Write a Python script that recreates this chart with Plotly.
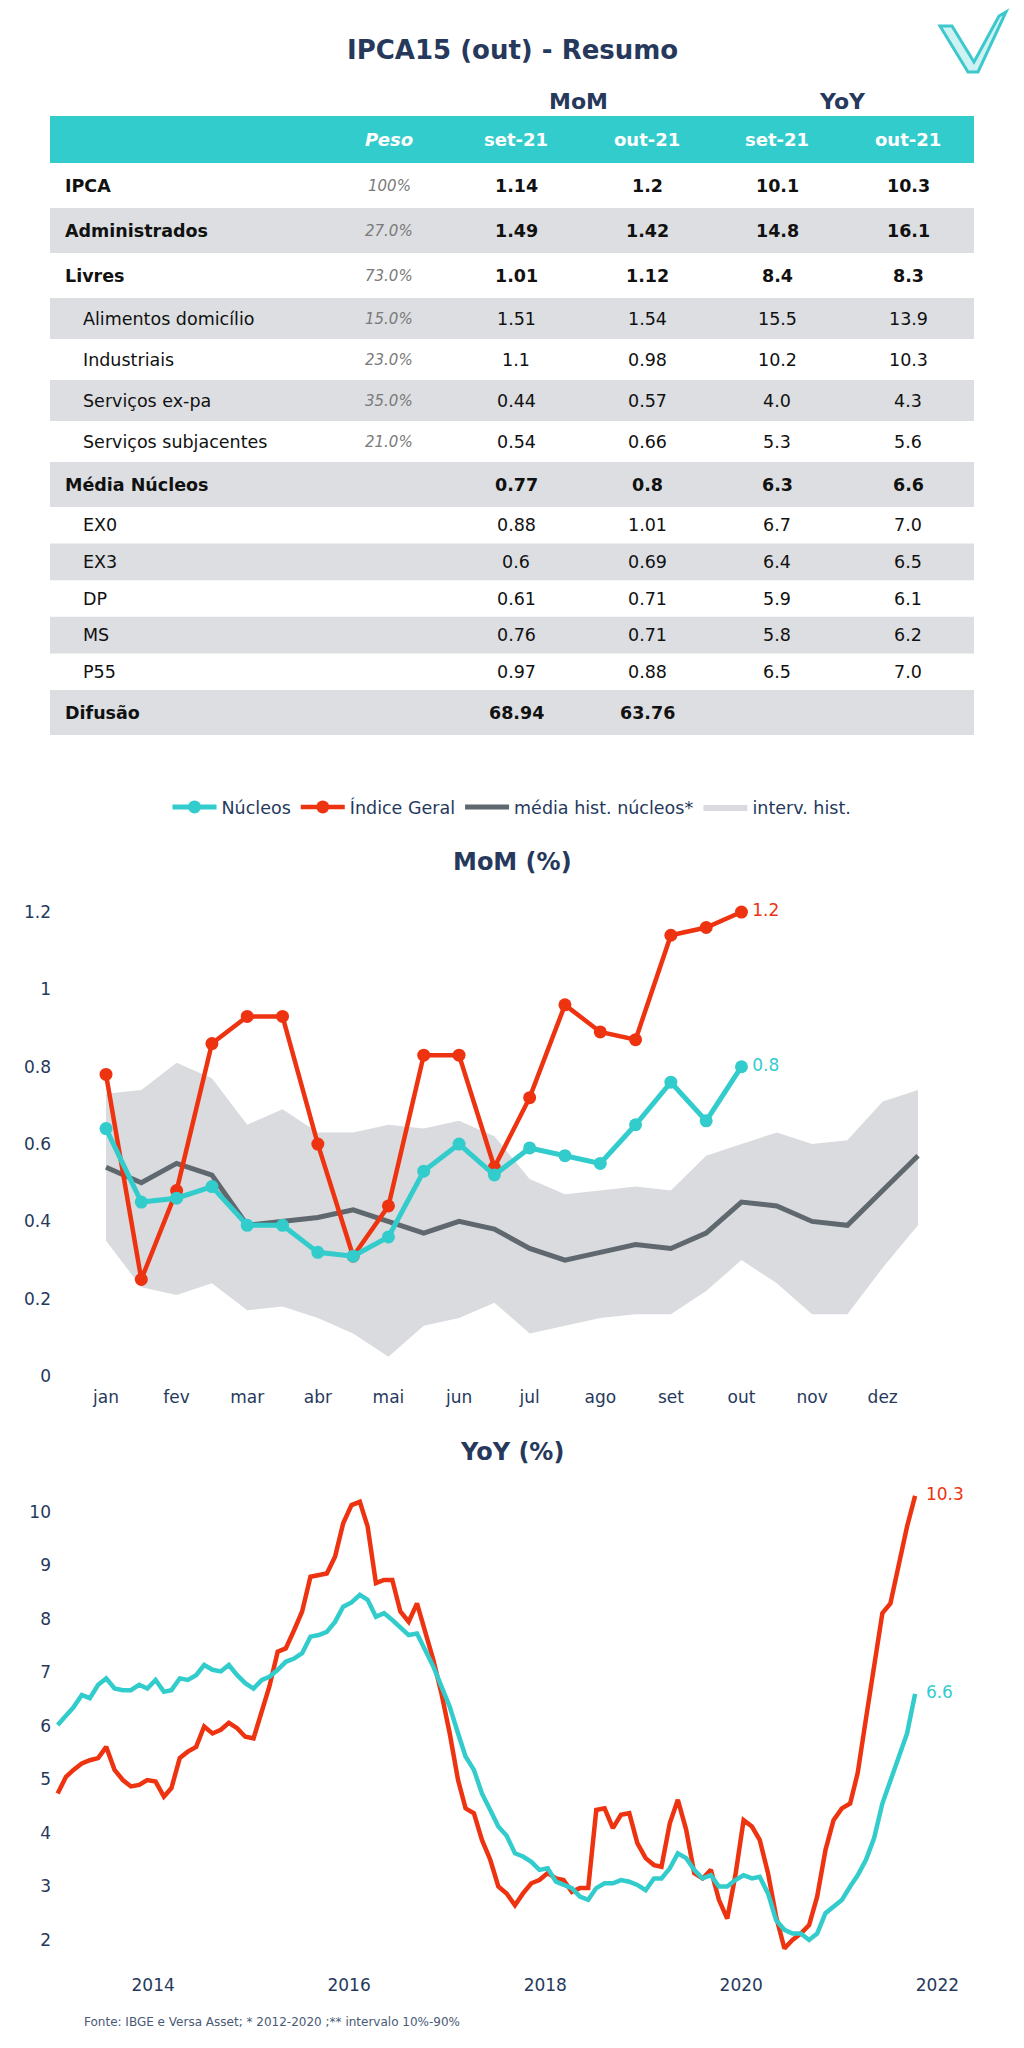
import plotly.graph_objects as go

W, H = 1024, 2048


def px(x):
    return x / W


def py(y):
    return 1 - y / H


NAVY = "#26395c"
TEAL = "#33cccc"
RED = "#ee3311"
GREY_LINE = "#5f686e"
BAND = "#d9dbde"
ROW_GREY = "#dcdee1"
FONT = "DejaVu Sans"

# ---------------- table data ----------------
row_labels = ["IPCA", "Administrados", "Livres", "Alimentos domicílio", "Industriais",
              "Serviços ex-pa", "Serviços subjacentes", "Média Núcleos", "EX0", "EX3",
              "DP", "MS", "P55", "Difusão"]
peso = ["100%", "27.0%", "73.0%", "15.0%", "23.0%", "35.0%", "21.0%",
        "", "", "", "", "", "", ""]
mom_set21 = ["1.14", "1.49", "1.01", "1.51", "1.1", "0.44", "0.54", "0.77",
             "0.88", "0.6", "0.61", "0.76", "0.97", "68.94"]
mom_out21 = ["1.2", "1.42", "1.12", "1.54", "0.98", "0.57", "0.66", "0.8",
             "1.01", "0.69", "0.71", "0.71", "0.88", "63.76"]
yoy_set21 = ["10.1", "14.8", "8.4", "15.5", "10.2", "4.0", "5.3", "6.3",
             "6.7", "6.4", "5.9", "5.8", "6.5", ""]
yoy_out21 = ["10.3", "16.1", "8.3", "13.9", "10.3", "4.3", "5.6", "6.6",
             "7.0", "6.5", "6.1", "6.2", "7.0", ""]
header_cols = ["Peso", "set-21", "out-21", "set-21", "out-21"]
group_headers = ["MoM", "YoY"]
bold_rows = {"IPCA", "Administrados", "Livres", "Média Núcleos", "Difusão"}

# ---------------- MoM data ----------------
months = ["jan", "fev", "mar", "abr", "mai", "jun", "jul", "ago", "set", "out", "nov", "dez"]
mom_nucleos = [0.64, 0.45, 0.46, 0.49, 0.39, 0.39, 0.32, 0.31, 0.36, 0.53, 0.60, 0.52,
               0.59, 0.57, 0.55, 0.65, 0.76, 0.66, 0.80]
mom_geral = [0.78, 0.25, 0.48, 0.86, 0.93, 0.93, 0.60, 0.31, 0.44, 0.83, 0.83, 0.54,
             0.72, 0.96, 0.89, 0.87, 1.14, 1.16, 1.20]
mom_media_hist = [0.54, 0.50, 0.55, 0.52, 0.39, 0.40, 0.41, 0.43, 0.40, 0.37, 0.40, 0.38,
                  0.33, 0.30, 0.32, 0.34, 0.33, 0.37, 0.45, 0.44, 0.40, 0.39, 0.48, 0.57]
mom_interv_high = [0.73, 0.74, 0.81, 0.77, 0.65, 0.69, 0.63, 0.63, 0.65, 0.64, 0.66, 0.62,
                   0.51, 0.47, 0.48, 0.49, 0.48, 0.57, 0.60, 0.63, 0.60, 0.61, 0.71, 0.74]
mom_interv_low = [0.35, 0.23, 0.21, 0.24, 0.17, 0.18, 0.15, 0.11, 0.05, 0.13, 0.15, 0.19,
                  0.11, 0.13, 0.15, 0.16, 0.16, 0.22, 0.30, 0.24, 0.16, 0.16, 0.28, 0.39]

# ---------------- YoY data (monthly, Jan 2013 - Oct 2021) ----------------
yoy_geral = [4.74, 5.05, 5.18, 5.30, 5.36, 5.40, 5.61, 5.18, 4.99, 4.87,
             4.90, 4.99, 4.96, 4.68, 4.84, 5.40, 5.52, 5.61, 5.99, 5.86,
             5.93, 6.06, 5.96, 5.80, 5.77, 6.30, 6.74, 7.39, 7.45, 7.79,
             8.14, 8.79, 8.82, 8.85, 9.17, 9.79, 10.13, 10.19, 9.73, 8.67,
             8.73, 8.73, 8.14, 7.95, 8.29, 7.79, 7.23, 6.61, 5.86, 4.99,
             4.46, 4.37, 3.87, 3.50, 3.00, 2.87, 2.65, 2.87, 3.06, 3.12,
             3.25, 3.15, 3.12, 2.90, 2.97, 2.97, 4.43, 4.46, 4.09, 4.34,
             4.37, 3.81, 3.53, 3.40, 3.37, 4.18, 4.62, 4.06, 3.25, 3.15,
             3.31, 2.75, 2.40, 3.20, 4.24, 4.12, 3.87, 3.25, 2.44, 1.84,
             2.00, 2.12, 2.28, 2.81, 3.68, 4.24, 4.46, 4.55, 5.12, 6.14,
             7.05, 8.11, 8.29, 8.98, 9.73, 10.30]
yoy_nucleos = [6.02, 6.20, 6.35, 6.58, 6.52, 6.77, 6.89, 6.70, 6.67, 6.67,
               6.77, 6.70, 6.86, 6.64, 6.67, 6.89, 6.86, 6.95, 7.14, 7.05,
               7.02, 7.14, 6.95, 6.80, 6.70, 6.86, 6.92, 7.05, 7.20, 7.26,
               7.36, 7.67, 7.70, 7.76, 7.95, 8.23, 8.31, 8.45, 8.36, 8.04,
               8.11, 7.98, 7.83, 7.70, 7.73, 7.42, 7.11, 6.74, 6.36, 5.86,
               5.43, 5.18, 4.74, 4.43, 4.12, 3.95, 3.62, 3.56, 3.46, 3.31,
               3.34, 3.09, 3.03, 2.97, 2.81, 2.75, 2.97, 3.06, 3.06, 3.12,
               3.09, 3.03, 2.93, 3.15, 3.15, 3.34, 3.62, 3.53, 3.31, 3.15,
               3.21, 3.00, 3.00, 3.12, 3.21, 3.15, 3.18, 2.87, 2.37, 2.19,
               2.12, 2.12, 2.00, 2.12, 2.50, 2.62, 2.75, 3.00, 3.21, 3.50,
               3.90, 4.55, 4.99, 5.43, 5.86, 6.60]
yoy_dates = [f"{2013 + k // 12}-{k % 12 + 1:02d}-10" for k in range(len(yoy_geral))]

footer_text = "Fonte: IBGE e Versa Asset; * 2012-2020 ;** intervalo 10%-90%"

fig = go.Figure()

# ---------------- MoM chart ----------------
mom_x = [i * 0.5 for i in range(len(mom_interv_low))]
fig.add_trace(go.Scatter(x=mom_x, y=mom_interv_low, mode="lines",
                         line=dict(width=0, color=BAND), showlegend=False,
                         hoverinfo="skip", xaxis="x", yaxis="y"))
fig.add_trace(go.Scatter(x=mom_x, y=mom_interv_high, mode="lines", fill="tonexty",
                         fillcolor=BAND, line=dict(width=0, color=BAND),
                         name="interv. hist.", legendrank=4, xaxis="x", yaxis="y"))
fig.add_trace(go.Scatter(x=mom_x, y=mom_media_hist, mode="lines",
                         line=dict(width=5, color=GREY_LINE),
                         name="média hist. núcleos*", legendrank=3, xaxis="x", yaxis="y"))
fig.add_trace(go.Scatter(x=mom_x[:len(mom_geral)], y=mom_geral, mode="lines+markers",
                         line=dict(width=4.5, color=RED), marker=dict(size=13, color=RED),
                         name="Índice Geral", legendrank=2, xaxis="x", yaxis="y"))
fig.add_trace(go.Scatter(x=mom_x[:len(mom_nucleos)], y=mom_nucleos, mode="lines+markers",
                         line=dict(width=5, color=TEAL), marker=dict(size=13, color=TEAL),
                         name="Núcleos", legendrank=1, xaxis="x", yaxis="y"))
for series, col in ((mom_geral, RED), (mom_nucleos, TEAL)):
    fig.add_trace(go.Scatter(x=[mom_x[len(series) - 1]], y=[series[-1]], mode="text",
                             text=[f"&nbsp;&nbsp;{series[-1]:g}"], textposition="middle right",
                             textfont=dict(size=17, color=col, family=FONT),
                             showlegend=False, hoverinfo="skip", xaxis="x", yaxis="y"))

# ---------------- YoY chart ----------------
fig.add_trace(go.Scatter(x=yoy_dates, y=yoy_geral, mode="lines",
                         line=dict(width=4.5, color=RED), showlegend=False,
                         xaxis="x2", yaxis="y2"))
fig.add_trace(go.Scatter(x=yoy_dates, y=yoy_nucleos, mode="lines",
                         line=dict(width=4.5, color=TEAL), showlegend=False,
                         xaxis="x2", yaxis="y2"))
for series, col in ((yoy_geral, RED), (yoy_nucleos, TEAL)):
    fig.add_trace(go.Scatter(x=[yoy_dates[-1]], y=[series[-1]], mode="text",
                             text=[f"&nbsp;&nbsp;{series[-1]:g}"], textposition="middle right",
                             textfont=dict(size=17, color=col, family=FONT),
                             showlegend=False, hoverinfo="skip", xaxis="x2", yaxis="y2"))

# ---------------- table (shapes + annotations) ----------------
shapes = []
annotations = []

TBL_L, TBL_R = 50, 974
HDR_T, HDR_B = 116, 163
col_centers = [389, 516, 647, 777, 908]
group_centers = [578, 842]

shapes.append(dict(type="rect", xref="paper", yref="paper", x0=px(TBL_L), x1=px(TBL_R),
                   y0=py(HDR_B), y1=py(HDR_T), fillcolor=TEAL, line=dict(width=0), layer="below"))
for i, h in enumerate(header_cols):
    txt = f"<b><i>{h}</i></b>" if i == 0 else f"<b>{h}</b>"
    annotations.append(dict(x=px(col_centers[i]), y=py((HDR_T + HDR_B) / 2), xref="paper",
                            yref="paper", text=txt, showarrow=False, xanchor="center",
                            yanchor="middle", font=dict(size=18, color="white", family=FONT)))
for g, c in zip(group_headers, group_centers):
    annotations.append(dict(x=px(c), y=py(101), xref="paper", yref="paper",
                            text=f"<b>{g}</b>", showarrow=False, xanchor="center",
                            yanchor="middle", font=dict(size=22, color=NAVY, family=FONT)))

row_h_style = {"bold": 45, "peso": 41, "plain": 36.6}
y_cur = HDR_B
for r, lab in enumerate(row_labels):
    is_bold = lab in bold_rows
    kind = "bold" if is_bold else ("peso" if peso[r] else "plain")
    h = row_h_style[kind]
    if r % 2 == 1:
        shapes.append(dict(type="rect", xref="paper", yref="paper", x0=px(TBL_L),
                           x1=px(TBL_R), y0=py(y_cur + h), y1=py(y_cur),
                           fillcolor=ROW_GREY, line=dict(width=0), layer="below"))
    yc = py(y_cur + h / 2)
    lab_txt = f"<b>{lab}</b>" if is_bold else lab
    annotations.append(dict(x=px(63 if is_bold else 81), y=yc, xref="paper", yref="paper",
                            text=lab_txt, showarrow=False, xanchor="left", yanchor="middle",
                            font=dict(size=17.5, color="#111111", family=FONT)))
    if peso[r]:
        annotations.append(dict(x=px(col_centers[0]), y=yc, xref="paper", yref="paper",
                                text=f"<i>{peso[r]}</i>", showarrow=False, xanchor="center",
                                yanchor="middle",
                                font=dict(size=15, color="#7a7a7a", family=FONT)))
    for ci, vals in enumerate((mom_set21, mom_out21, yoy_set21, yoy_out21)):
        v = vals[r]
        if not v:
            continue
        annotations.append(dict(x=px(col_centers[ci + 1]), y=yc, xref="paper", yref="paper",
                                text=f"<b>{v}</b>" if is_bold else v, showarrow=False,
                                xanchor="center", yanchor="middle",
                                font=dict(size=17.5, color="#111111", family=FONT)))
    y_cur += h

# ---------------- titles / footer ----------------
annotations.append(dict(x=0.5, y=py(50), xref="paper", yref="paper",
                        text="<b>IPCA15 (out) - Resumo</b>", showarrow=False,
                        xanchor="center", yanchor="middle",
                        font=dict(size=26, color=NAVY, family=FONT)))
annotations.append(dict(x=px(512), y=py(862), xref="paper", yref="paper",
                        text="<b>MoM (%)</b>", showarrow=False, xanchor="center",
                        yanchor="middle", font=dict(size=24, color=NAVY, family=FONT)))
annotations.append(dict(x=px(512), y=py(1452), xref="paper", yref="paper",
                        text="<b>YoY (%)</b>", showarrow=False, xanchor="center",
                        yanchor="middle", font=dict(size=24, color=NAVY, family=FONT)))
annotations.append(dict(x=px(82), y=py(2022), xref="paper", yref="paper",
                        text=footer_text, showarrow=False, xanchor="left",
                        yanchor="middle", font=dict(size=12, color="#4a5a75", family=FONT)))


# logo (decorative V)
def pth(pts, close=False):
    s = "M " + " L ".join(f"{px(a):.5f},{py(b):.5f}" for a, b in pts)
    return s + (" Z" if close else "")


shapes.append(dict(type="path", xref="paper", yref="paper",
                   path=pth([(940, 26), (952, 26), (974, 62), (999, 16), (1006, 12),
                             (978, 72), (968, 72)], close=True),
                   fillcolor="rgba(60,200,204,0.25)",
                   line=dict(color="#3cc8cc", width=3)))

axis_common = dict(showgrid=False, zeroline=False, showline=False, ticks="",
                   automargin=False, tickfont=dict(size=17, color=NAVY, family=FONT))

fig.update_layout(
    template="none",
    width=W, height=H,
    margin=dict(l=0, r=0, t=0, b=0),
    paper_bgcolor="white", plot_bgcolor="white",
    font=dict(family=FONT, color=NAVY, size=16),
    showlegend=True,
    legend=dict(orientation="h", x=0.5, xanchor="center", y=py(807), yanchor="middle",
                traceorder="normal", itemwidth=44,
                font=dict(size=17.5, color=NAVY, family=FONT), bgcolor="rgba(0,0,0,0)"),
    xaxis=dict(domain=[px(52), px(972)], range=[-0.765, 12.265],
               tickvals=list(range(len(months))), ticktext=months, anchor="y", **axis_common),
    yaxis=dict(domain=[py(1385), py(890)], range=[-0.023, 1.257], dtick=0.2,
               anchor="x", **axis_common),
    xaxis2=dict(domain=[px(52), px(972)], type="date", range=["2012-12-20", "2022-05-10"],
                dtick="M24", tick0="2014-01-01", tickformat="%Y", anchor="y2", **axis_common),
    yaxis2=dict(domain=[py(1973), py(1480)], range=[1.383, 10.598], dtick=1,
                anchor="x2", **axis_common),
    shapes=shapes,
    annotations=annotations,
)

fig.write_html("out.html")
